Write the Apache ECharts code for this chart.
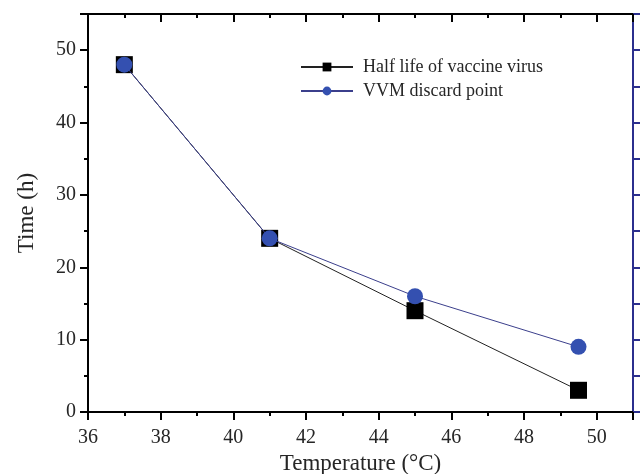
<!DOCTYPE html>
<html>
<head>
<meta charset="utf-8">
<script src="https://cdn.jsdelivr.net/npm/echarts@6/dist/echarts.min.js"></script>
<style>html,body{margin:0;padding:0;background:#fff;}#c{width:641px;height:474px;}</style>
</head>
<body>
<div id="c"></div>
<script>
const temperatures = [37, 41, 45, 49.5];
const halfLife = [48, 24, 14, 3];
const vvmDiscard = [48, 24, 16, 9];
const seriesNames = ['Half life of vaccine virus', 'VVM discard point'];
const xTitle = 'Temperature (°C)';
const yTitle = 'Time (h)';

const font = '"Liberation Serif", "Times New Roman", serif';
const txt = '#262626';
const navy = '#2b2f8e';
const blue = '#3450b0';

const chart = echarts.init(document.getElementById('c'), null, {renderer: 'canvas'});
const pair = (xs, ys) => xs.map((x, i) => [x, ys[i]]);

chart.setOption({
  animation: false,
  backgroundColor: '#fff',
  textStyle: {fontFamily: font},
  grid: {left: 88, right: 8, top: 14, bottom: 62, containLabel: false, outerBoundsMode: 'none'},
  legend: {
    orient: 'vertical', left: 295, top: 52,
    itemWidth: 52, itemHeight: 11, itemGap: 4,
    textStyle: {fontFamily: font, fontSize: 18, color: txt, lineHeight: 20, padding: [0, 0, 0, 5]},
    data: seriesNames
  },
  xAxis: [{
    type: 'value', position: 'bottom', min: 36, max: 51, interval: 2,
    name: xTitle, nameLocation: 'middle', nameGap: 38,
    nameTextStyle: {fontFamily: font, fontSize: 23, color: txt},
    axisLine: {show: true, onZero: false, lineStyle: {color: '#000', width: 2}},
    axisTick: {show: true, inside: false, length: 8, lineStyle: {color: '#000', width: 2}},
    minorTick: {show: true, splitNumber: 2, length: 4, lineStyle: {color: '#000', width: 2}},
    axisLabel: {fontFamily: font, fontSize: 20, color: txt, margin: 16,
      formatter: v => (v % 2 === 0 && v <= 50) ? String(v) : ''},
    splitLine: {show: false}
  }, {
    type: 'value', position: 'top', min: 36, max: 51, interval: 2,
    axisLine: {show: true, onZero: false, lineStyle: {color: '#000', width: 2}},
    axisTick: {show: true, inside: true, length: 8, lineStyle: {color: '#000', width: 2}},
    minorTick: {show: true, splitNumber: 2, length: 4, lineStyle: {color: '#000', width: 2}},
    axisLabel: {show: false},
    splitLine: {show: false}
  }],
  yAxis: [{
    type: 'value', position: 'left', min: 0, max: 55, interval: 10,
    name: yTitle, nameLocation: 'middle', nameGap: 50,
    nameTextStyle: {fontFamily: font, fontSize: 23, color: txt},
    axisLine: {show: true, onZero: false, lineStyle: {color: '#000', width: 2}},
    axisTick: {show: true, inside: false, length: 8, lineStyle: {color: '#000', width: 2}},
    minorTick: {show: true, splitNumber: 2, length: 4, lineStyle: {color: '#000', width: 2}},
    axisLabel: {fontFamily: font, fontSize: 20, color: txt, margin: 12,
      formatter: v => (v % 10 === 0 && v <= 50) ? String(v) : ''},
    splitLine: {show: false}
  }, {
    type: 'value', position: 'right', min: 0, max: 55, interval: 5,
    axisLine: {show: true, onZero: false, lineStyle: {color: navy, width: 2}},
    axisTick: {show: true, inside: false, length: 7, lineStyle: {color: navy, width: 2}},
    axisLabel: {show: false},
    splitLine: {show: false}
  }],
  series: [{
    name: seriesNames[0], type: 'line', xAxisIndex: 0, yAxisIndex: 0,
    data: pair(temperatures, halfLife),
    symbol: 'rect', symbolSize: 17,
    itemStyle: {color: '#000'},
    lineStyle: {color: '#222', width: 1},
    z: 3
  }, {
    name: seriesNames[1], type: 'line', xAxisIndex: 0, yAxisIndex: 0,
    data: pair(temperatures, vvmDiscard),
    symbol: 'circle', symbolSize: 16,
    itemStyle: {color: blue},
    lineStyle: {color: '#3b3f8c', width: 1},
    z: 4
  }]
});
</script>
</body>
</html>
